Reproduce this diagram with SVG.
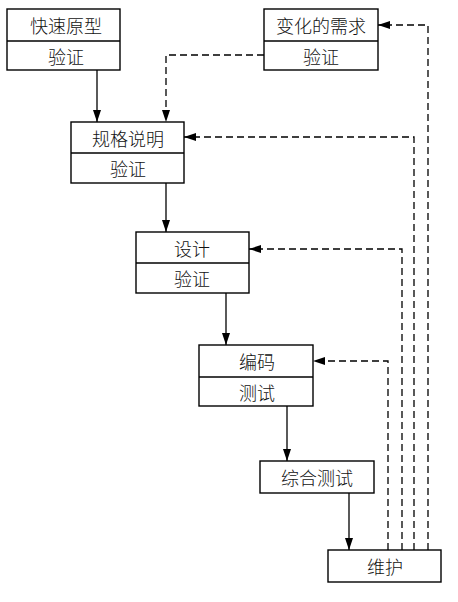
<svg xmlns="http://www.w3.org/2000/svg" width="458" height="602" viewBox="0 0 458 602">
<defs>
<marker id="ah" viewBox="0 0 12 8" refX="12" refY="4" markerWidth="12" markerHeight="8" markerUnits="userSpaceOnUse" orient="auto">
<path d="M0,0 L12,4 L0,8 Z" fill="#000"/>
</marker>
</defs>
<style>
.box{fill:#fff;stroke:#000;stroke-width:1.4}
.div{stroke:#000;stroke-width:1.4}
.t{font-family:"Noto Sans CJK SC","Noto Sans",sans-serif;font-size:18px;font-weight:300;text-anchor:middle;dominant-baseline:central;fill:#111}
.s{fill:none;stroke:#000;stroke-width:1.3}
.d{fill:none;stroke:#000;stroke-width:1.3;stroke-dasharray:7 4}
</style>
<rect width="458" height="602" fill="#fff"/>
<g id="connectors">
<path class="s" d="M97,70 V122" marker-end="url(#ah)"/>
<path class="s" d="M166,183 V232" marker-end="url(#ah)"/>
<path class="s" d="M226,293 V345" marker-end="url(#ah)"/>
<path class="s" d="M287,406 V461" marker-end="url(#ah)"/>
<path class="s" d="M349,493 V550" marker-end="url(#ah)"/>
<path class="d" d="M264,55 H166 V122" marker-end="url(#ah)"/>
<path class="d" d="M428,550 V25 H378" marker-end="url(#ah)"/>
<path class="d" d="M414,550 V137 H184" marker-end="url(#ah)"/>
<path class="d" d="M402,550 V249 H249" marker-end="url(#ah)"/>
<path class="d" d="M388,550 V361 H313" marker-end="url(#ah)"/>
</g>
<g id="prototype">
<rect class="box" x="7" y="9" width="113" height="61"/>
<line class="div" x1="7" y1="41" x2="120" y2="41"/>
<text class="t" x="66" y="25">快速原型</text>
<text class="t" x="66" y="56">验证</text>
</g>
<g id="changes">
<rect class="box" x="264" y="9" width="114" height="61"/>
<line class="div" x1="264" y1="41" x2="378" y2="41"/>
<text class="t" x="321" y="25">变化的需求</text>
<text class="t" x="321" y="56">验证</text>
</g>
<g id="spec">
<rect class="box" x="71" y="122" width="113" height="61"/>
<line class="div" x1="71" y1="153" x2="184" y2="153"/>
<text class="t" x="128" y="138">规格说明</text>
<text class="t" x="128" y="168">验证</text>
</g>
<g id="design">
<rect class="box" x="136" y="232" width="113" height="61"/>
<line class="div" x1="136" y1="263" x2="249" y2="263"/>
<text class="t" x="192" y="248">设计</text>
<text class="t" x="192" y="278">验证</text>
</g>
<g id="coding">
<rect class="box" x="199" y="345" width="114" height="61"/>
<line class="div" x1="199" y1="377" x2="313" y2="377"/>
<text class="t" x="257" y="361">编码</text>
<text class="t" x="257" y="392">测试</text>
</g>
<g id="integration">
<rect class="box" x="260" y="461" width="114" height="32"/>
<text class="t" x="317" y="477">综合测试</text>
</g>
<g id="maintenance">
<rect class="box" x="328" y="550" width="113" height="32"/>
<text class="t" x="385" y="566">维护</text>
</g>
</svg>
